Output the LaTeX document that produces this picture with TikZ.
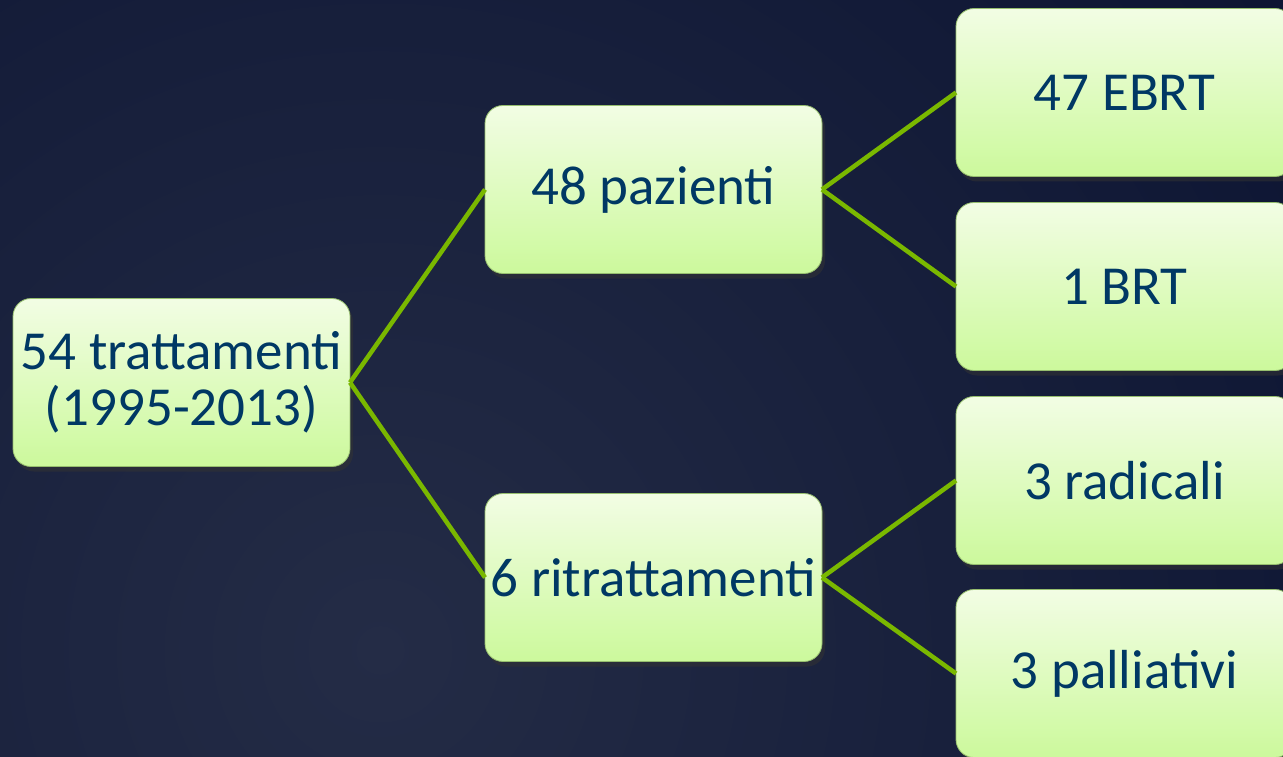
\documentclass[tikz,border=0pt]{standalone}
\usepackage{fontspec}
\setmainfont{Carlito}
\usetikzlibrary{shadows}
\definecolor{bgdark}{RGB}{12,20,50}
\definecolor{bglight}{RGB}{36,44,70}
\definecolor{boxtop}{RGB}{242,253,228}
\definecolor{boxbot}{RGB}{204,249,156}
\definecolor{boxline}{RGB}{150,190,110}
\definecolor{linkgreen}{RGB}{122,184,0}
\definecolor{txtblue}{RGB}{0,56,100}
\tikzset{
  box/.style={rectangle, rounded corners=18pt, minimum width=337pt, minimum height=168pt,
    top color=boxtop, bottom color=boxbot, draw=boxline, line width=0.8pt,
    text=txtblue, align=center, inner sep=0pt, outer sep=0pt,
    font=\fontsize{55}{56}\selectfont,
    drop shadow={shadow xshift=3pt, shadow yshift=-5pt, opacity=0.55, fill=black!80}},
  link/.style={draw=linkgreen, line width=4.5pt}
}
\begin{document}
\begin{tikzpicture}[x=1pt,y=-1pt]
\useasboundingbox (0,0) rectangle (1283,757);
\clip (0,0) rectangle (1283,757);
\fill[bgdark] (0,0) rectangle (1283,757);
\shade[inner color=bglight, outer color=bgdark] (380,650) circle (1150);
\node[box] (root) at (181.5,382.5) {\raisebox{-3pt}{54 trattamenti}\\\raisebox{-3pt}{(1995-2013)}};
\node[box] (p48) at (653.5,189.5) {\raisebox{-3pt}{48 pazienti}};
\node[box] (r6) at (653.5,577.5) {\raisebox{-3pt}{6 ritrattamenti}};
\node[box] (ebrt) at (1124.5,92.5) {\raisebox{-3pt}{47 EBRT}};
\node[box] (brt) at (1124.5,286.5) {\raisebox{-3pt}{1 BRT}};
\node[box] (rad) at (1124.5,480.5) {\raisebox{-3pt}{3 radicali}};
\node[box] (pal) at (1124.5,673.5) {\raisebox{-3pt}{3 palliativi}};
\draw[link] (root.east) -- (p48.west);
\draw[link] (root.east) -- (r6.west);
\draw[link] (p48.east) -- (ebrt.west);
\draw[link] (p48.east) -- (brt.west);
\draw[link] (r6.east) -- (rad.west);
\draw[link] (r6.east) -- (pal.west);
\end{tikzpicture}
\end{document}
